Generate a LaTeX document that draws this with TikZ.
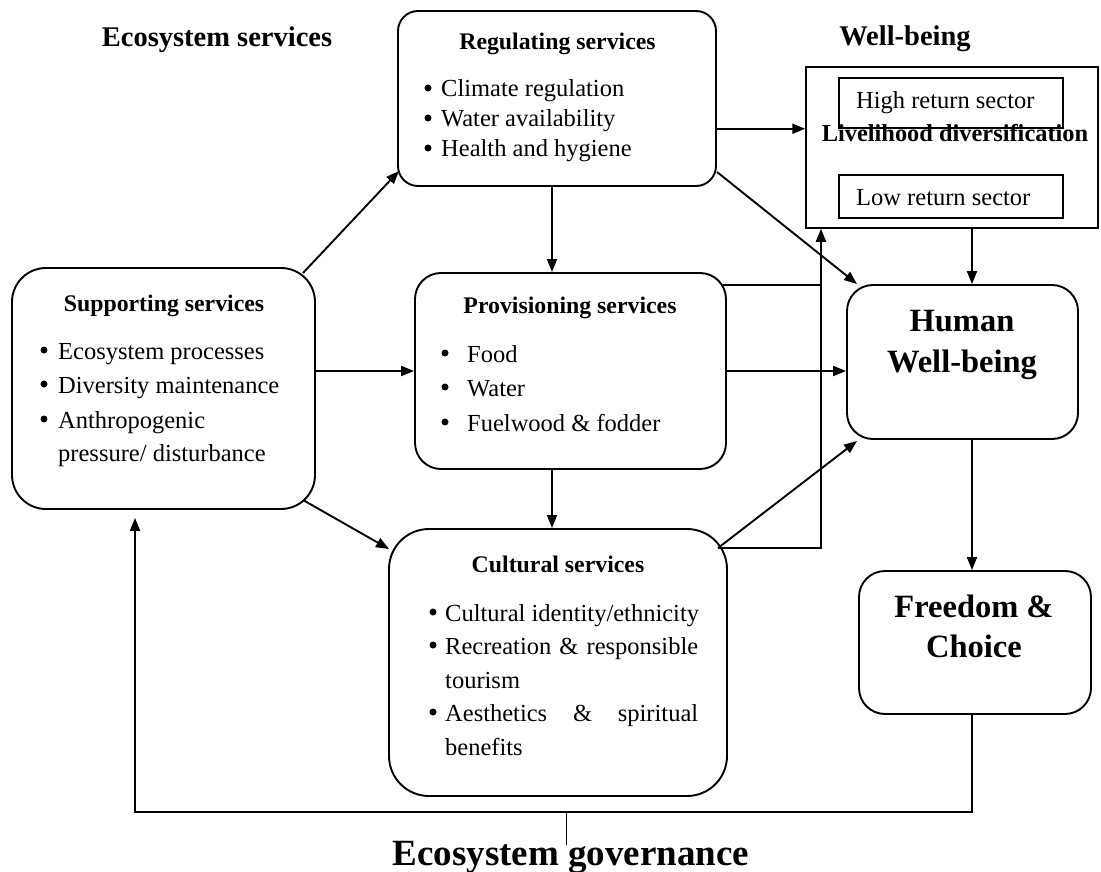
\documentclass[tikz,border=0pt]{standalone}
\usepackage{fontspec}
\setmainfont{Liberation Serif}
\usetikzlibrary{arrows.meta}
\begin{document}
\begin{tikzpicture}[x=1pt,y=-1pt,
  box/.style={draw,line width=1.9pt,inner sep=0pt},
  sbox/.style={draw,line width=1.5pt,inner sep=0pt},
  arr/.style={-{Triangle[length=13pt,width=10pt]},line width=1.9pt},
  ln/.style={line width=1.9pt},
  tickline/.style={line width=1pt},
  dot/.style={circle,fill,inner sep=0pt,minimum size=7pt},
  txt/.style={inner sep=0pt,font=\fontsize{24.5}{29}\selectfont},
  ttl/.style={inner sep=0pt,font=\fontsize{23.8}{28}\selectfont\bfseries},
  hdr/.style={inner sep=0pt,font=\fontsize{28.5}{34}\selectfont\bfseries},
  big/.style={inner sep=0pt,font=\fontsize{32.5}{38}\selectfont\bfseries},
  gov/.style={inner sep=0pt,font=\fontsize{37}{44}\selectfont\bfseries}]
\useasboundingbox (0,0) rectangle (1101,872);

% headers
\node[hdr,anchor=base] (hes) at (217,47) {Ecosystem services};
\node[hdr,anchor=base] (hwell) at (905,46) {Well-being};

% boxes
\node[box,rounded corners=20pt,minimum width=318pt,minimum height=175pt] (reg) at (557,98.5) {};
\node[box,rounded corners=26pt,minimum width=311pt,minimum height=196pt] (prov) at (570.5,371) {};
\node[box,rounded corners=34pt,minimum width=303pt,minimum height=241pt] (sup) at (163.5,388.5) {};
\node[box,rounded corners=40pt,minimum width=338pt,minimum height=267pt] (cult) at (558,662.5) {};
\node[box,rounded corners=26pt,minimum width=231pt,minimum height=154pt] (hwb) at (962.5,362) {};
\node[box,rounded corners=26pt,minimum width=232pt,minimum height=143pt] (free) at (975,642.5) {};
\node[sbox,minimum width=292pt,minimum height=161pt] (live) at (952,147.5) {};
\node[sbox,minimum width=224pt,minimum height=50pt] (high) at (951,103) {};
\node[sbox,minimum width=224pt,minimum height=43pt] (low) at (951,196.5) {};

% regulating services
\node[ttl,anchor=base] (regt) at (557.5,50) {Regulating services};
\node[dot] (regb1) at (428,88) {};
\node[dot] (regb2) at (428,118) {};
\node[dot] (regb3) at (428,148) {};
\node[txt,anchor=base west] (reg1) at (441,97) {Climate regulation};
\node[txt,anchor=base west] (reg2) at (441,127) {Water availability};
\node[txt,anchor=base west] (reg3) at (441,157) {Health and hygiene};

% provisioning services
\node[ttl,anchor=base] (provt) at (570,313) {Provisioning services};
\node[dot] (provb1) at (445,353) {};
\node[dot] (provb2) at (445,387) {};
\node[dot] (provb3) at (445,422) {};
\node[txt,anchor=base west] (prov1) at (467,362) {Food};
\node[txt,anchor=base west] (prov2) at (467,396) {Water};
\node[txt,anchor=base west] (prov3) at (467,431) {Fuelwood \& fodder};

% supporting services
\node[ttl,anchor=base] (supt) at (164,311) {Supporting services};
\node[dot] (supb1) at (44,350) {};
\node[dot] (supb2) at (44,384) {};
\node[dot] (supb3) at (44,419) {};
\node[txt,anchor=base west] (sup1) at (58,359) {Ecosystem processes};
\node[txt,anchor=base west] (sup2) at (58,393) {Diversity maintenance};
\node[txt,anchor=base west] (sup3) at (58,428) {Anthropogenic};
\node[txt,anchor=base west] (sup4) at (58,461) {pressure/ disturbance};

% cultural services
\node[ttl,anchor=base] (cultt) at (558,572) {Cultural services};
\node[dot] (cultb1) at (433,612) {};
\node[dot] (cultb2) at (433,645) {};
\node[dot] (cultb3) at (433,712) {};
\node[txt,anchor=base west] (cult1) at (445,621) {Cultural identity/ethnicity};
\node[txt,anchor=base west] (cult2) at (445,654) {\makebox[253pt][s]{Recreation \& responsible}};
\node[txt,anchor=base west] (cult3) at (445,688) {tourism};
\node[txt,anchor=base west] (cult4) at (445,721) {\makebox[253pt][s]{Aesthetics \& spiritual}};
\node[txt,anchor=base west] (cult5) at (445,755) {benefits};

% well-being side
\node[big,anchor=base] (hwb1) at (962,331) {Human};
\node[big,anchor=base] (hwb2) at (962,372) {Well-being};
\node[big,anchor=base] (free1) at (974,617) {Freedom \&};
\node[big,anchor=base] (free2) at (974,657) {Choice};
\node[txt,anchor=base west] (hight) at (856,109) {High return sector};
\node[txt,anchor=base west] (lowt) at (856,205) {Low return sector};
\node[ttl,font=\fontsize{24.4}{28}\selectfont\bfseries,anchor=base] (livet) at (955,142) {Livelihood diversification};

% governance label
\node[gov,anchor=base] (govt) at (571,865) {Ecosystem governance};

% connector end points
\coordinate (vx) at (552,0);
\coordinate (fx) at (972,0);
\coordinate (jx) at (821,0);
\coordinate (sx) at (135,0);
\coordinate (gy) at (0,812);
\coordinate (sup-ne) at (303,273);
\coordinate (reg-sw) at (399,171);
\coordinate (sup-se) at (303,500);
\coordinate (cult-nw) at (389,549);
\coordinate (reg-se) at (717,172);
\coordinate (hwb-nw) at (857,284);
\coordinate (cult-ne) at (718,548);
\coordinate (hwb-sw) at (857,441);
\coordinate (prov-ne) at (723,285);
\coordinate (tick) at (566,812);
\coordinate (tickend) at (566,845);

% connectors
\draw[arr] (sup-ne) -- (reg-sw);
\draw[arr] (sup.east |- prov.west) -- (prov.west);
\draw[arr] (sup-se) -- (cult-nw);
\draw[arr] (reg.south -| vx) -- (prov.north -| vx);
\draw[arr] (prov.south -| vx) -- (cult.north -| vx);
\draw[arr] (reg.east |- high.south) -- (live.west |- high.south);
\draw[arr] (reg-se) -- (hwb-nw);
\draw[ln] (prov-ne) -- (prov-ne -| jx);
\draw[arr] (cult-ne) -- (cult-ne -| jx) -- (live.south -| jx);
\draw[arr] (prov.east) -- (prov.east -| hwb.west);
\draw[arr] (cult-ne) -- (hwb-sw);
\draw[arr] (live.south -| fx) -- (hwb.north -| fx);
\draw[arr] (hwb.south -| fx) -- (free.north -| fx);
\draw[arr,shorten >=8pt] (free.south -| fx) -- (fx |- gy) -- (sx |- gy) -- (sup.south -| sx);
\draw[tickline] (tick) -- (tickend);
\end{tikzpicture}
\end{document}
